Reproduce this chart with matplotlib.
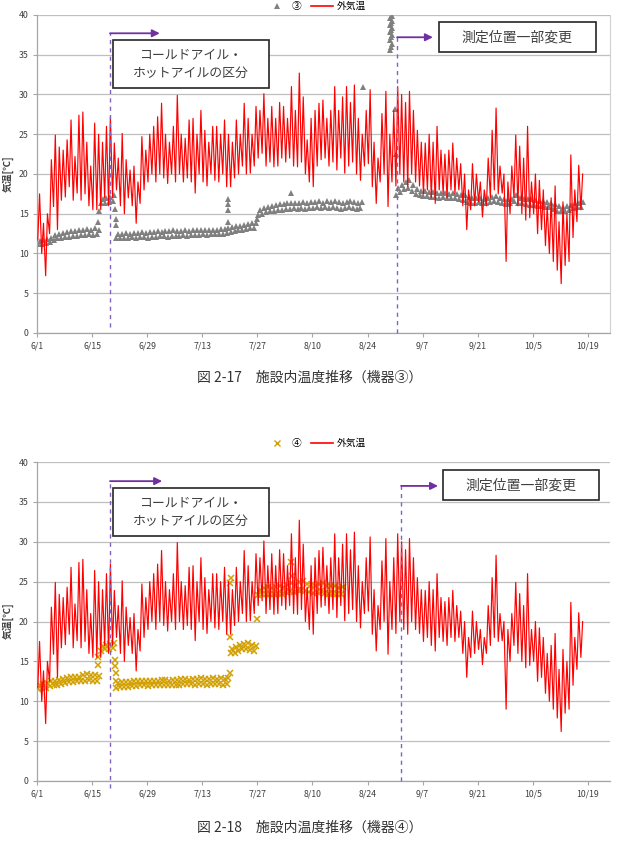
import matplotlib
matplotlib.use("Agg")
import matplotlib.pyplot as plt
from matplotlib.lines import Line2D
from matplotlib.patches import Rectangle
import numpy as np

plt.rcParams['font.family'] = ['Noto Sans CJK JP', 'DejaVu Sans']

nan = np.nan

# x axis: days counted from 6/1
tick_labels = ['6/1', '6/15', '6/29', '7/13', '7/27', '8/10', '8/24', '9/7', '9/21', '10/5', '10/19']
yticks = [0, 5, 10, 15, 20, 25, 30, 35, 40]

# outside air temperature, daily high / low (6/1 .. 10/18)
out_hi = [17.5, 13.8, 15.0, 21.8, 24.9, 23.4, 23.0, 24.3, 26.8, 22.2,
          27.4, 27.8, 24.0, 21.0, 26.4, 25.0, 24.0, 26.0, 27.2, 23.9,
          22.0, 25.1, 21.8, 20.5, 21.0, 19.0, 24.7, 23.0, 25.0, 26.0,
          27.2, 28.9, 25.0, 24.0, 26.0, 29.9, 25.0, 24.5, 26.8, 27.0,
          25.0, 28.0, 25.5, 24.0, 26.0, 26.0, 25.0, 26.8, 25.0, 24.0,
          26.8, 25.0, 28.9, 27.0, 25.0, 28.5, 28.0, 30.1, 27.0, 28.5,
          27.0, 29.0, 28.5, 27.0, 31.0, 28.0, 32.7, 29.7, 24.3, 27.0,
          28.0, 28.9, 29.3, 27.0, 28.0, 31.0, 28.0, 29.7, 31.0, 29.0,
          31.2, 27.0, 25.0, 28.0, 30.6, 24.0, 22.0, 27.6, 30.4, 25.0,
          28.0, 31.0, 30.0, 29.0, 30.4, 28.0, 25.5, 24.0, 23.9, 25.0,
          24.0, 26.0, 23.0, 22.5, 23.0, 23.9, 22.0, 21.3, 20.0, 18.0,
          21.3, 20.0, 19.0, 18.0, 22.0, 25.5, 28.3, 21.0, 20.0, 19.0,
          21.0, 24.9, 23.5, 22.0, 26.0, 19.0, 20.0, 19.2, 18.0, 16.0,
          17.0, 18.5, 14.0, 16.5, 15.0, 22.4, 18.0, 21.1, 20.0]
out_lo = [11.7, 10.0, 7.2, 12.5, 15.9, 13.0, 16.7, 17.1, 18.4, 16.7,
          17.6, 16.7, 17.5, 16.0, 15.5, 15.5, 15.5, 17.0, 16.0, 17.0,
          18.0, 16.0, 15.0, 17.0, 16.0, 13.8, 16.3, 18.0, 19.0, 20.0,
          19.0, 20.0, 19.5, 18.8, 20.0, 19.0, 20.0, 19.0, 19.5, 19.0,
          17.6, 20.0, 19.0, 18.5, 20.0, 19.2, 19.0, 20.0, 18.4, 18.4,
          19.5, 20.0, 21.0, 20.0, 20.1, 21.0, 22.0, 22.6, 21.0, 21.5,
          20.9, 21.0, 22.0, 21.5, 22.0, 21.0, 20.9, 21.5, 20.0, 19.0,
          18.4, 21.0, 21.8, 22.0, 21.0, 21.5, 20.5, 22.0, 20.1, 21.0,
          21.5, 20.0, 19.2, 21.0, 21.3, 18.4, 16.3, 19.0, 20.0, 15.9,
          19.0, 18.5, 20.0, 19.0, 18.4, 20.0, 19.0, 18.5, 17.5, 18.0,
          17.0, 16.3, 18.0, 17.5, 17.0, 18.0, 17.5, 18.0, 16.0, 13.0,
          15.5, 16.0, 16.5, 14.6, 16.0, 17.0, 18.0, 17.5, 17.6, 9.0,
          15.0, 17.0, 16.0, 15.0, 14.2, 14.5, 15.0, 12.5, 13.0, 11.0,
          10.0, 9.0, 7.9, 6.2, 8.5, 9.0, 12.0, 14.0, 15.5]

# device 3, daily low / high readings
dev3_lo = [11.2, 11.2, 11.3, 11.4, 11.7, 11.9, 12.0, 12.1, 12.1, 12.2,
           12.2, 12.3, 12.3, 12.4, 12.3, 12.4, 16.3, 16.4, 16.5, 16.6,
           11.9, 12.0, 12.0, 12.0, 12.1, 12.0, 12.1, 12.1, 12.0, 12.1,
           12.1, 12.2, 12.2, 12.1, 12.2, 12.2, 12.2, 12.3, 12.2, 12.3,
           12.3, 12.3, 12.4, 12.3, 12.4, 12.4, 12.5, 12.5, 12.6, 12.7,
           12.8, 12.9, 13.0, 13.1, 13.2, 13.2, 14.8, 15.0, 15.2, 15.3,
           15.4, 15.5, 15.5, 15.6, 15.6, 15.7, 15.6, 15.7, 15.6, 15.7,
           15.7, 15.8, 15.7, 15.8, 15.7, 15.8, 15.7, 15.6, 15.7, 15.8,
           15.7, 15.6, 15.7, nan, nan, nan, nan, nan, nan, nan,
           nan, 17.3, 17.7, 18.1, 18.3, 17.9, 17.5, 17.3, 17.2, 17.2,
           17.1, 17.1, 17.0, 17.1, 17.0, 17.0, 17.0, 16.9, 16.7, 16.5,
           16.4, 16.4, 16.5, 16.4, 16.4, 16.5, 16.6, 16.5, 16.3, 16.2,
           16.3, 16.6, 16.4, 16.3, 16.2, 16.1, 16.1, 16.0, 16.0, 15.9,
           15.8, 15.6, 15.4, 15.3, 15.4, 15.5, 15.7, 15.8, 15.9]
dev3_hi = [11.6, 11.7, 11.8, 12.0, 12.3, 12.5, 12.6, 12.7, 12.8, 12.8,
           12.9, 13.0, 13.1, 13.0, 13.2, 12.9, 16.9, 17.0, 17.1, 17.3,
           12.4, 12.5, 12.6, 12.5, 12.6, 12.6, 12.7, 12.6, 12.7, 12.7,
           12.8, 12.7, 12.8, 12.8, 12.9, 12.8, 12.8, 12.9, 12.8, 12.9,
           12.9, 12.9, 13.0, 12.9, 13.0, 13.0, 13.1, 13.1, 13.2, 13.3,
           13.4, 13.5, 13.6, 13.7, 13.8, 13.8, 15.5, 15.7, 15.9, 16.0,
           16.1, 16.2, 16.2, 16.3, 16.4, 16.3, 16.4, 16.5, 16.3, 16.5,
           16.5, 16.6, 16.4, 16.6, 16.5, 16.6, 16.5, 16.4, 16.5, 16.6,
           16.5, 16.4, 16.5, nan, nan, nan, nan, nan, nan, nan,
           nan, 18.2, 18.6, 19.0, 19.3, 18.6, 18.1, 17.9, 17.8, 17.7,
           17.7, 17.6, 17.6, 17.6, 17.5, 17.6, 17.5, 17.4, 17.3, 17.1,
           17.0, 17.0, 17.0, 16.9, 17.0, 17.1, 17.2, 17.0, 16.9, 16.8,
           16.9, 17.3, 17.0, 16.9, 16.8, 16.8, 16.7, 16.6, 16.6, 16.5,
           16.4, 16.2, 16.0, 15.9, 16.0, 16.1, 16.3, 16.4, 16.5]
# scattered readings of device 3 (day, value)
dev3_odd_day = [15.6, 15.7, 19.9, 20.0, 20.1, 48.5, 48.5, 48.6, 48.6, 55.9, 64.5, 82.8,
                89.7, 90.0, 90.3, 89.7, 90.0, 90.3, 89.7, 90.0, 90.3, 89.7, 90.0, 90.3,
                89.8, 90.1, 91.0, 91.1]
dev3_odd_val = [14.0, 15.4, 15.6, 14.4, 13.6, 16.8, 16.2, 15.5, 14.0, 14.3, 17.6, 31.0,
                35.6, 36.0, 36.4, 36.8, 37.2, 37.5, 37.8, 38.1, 38.4, 38.7, 39.0, 39.3,
                39.6, 39.9, 28.2, 22.5]

# device 4, daily low / high readings (logged until 8/18)
dev4_lo = [11.5, 11.6, 11.7, 11.9, 12.0, 12.1, 12.2, 12.3, 12.4, 12.4,
           12.5, 12.6, 12.6, 12.7, 12.6, 12.6, 16.3, 16.5, 16.6, 16.7,
           11.7, 11.8, 11.8, 11.8, 11.9, 11.9, 12.0, 12.0, 11.9, 12.0,
           12.0, 12.1, 12.1, 12.0, 12.1, 12.1, 12.1, 12.2, 12.2, 12.2,
           12.1, 12.2, 12.2, 12.1, 12.2, 12.2, 12.2, 12.1, 12.2, 16.0,
           16.1, 16.3, 16.5, 16.6, 16.4, 16.3, 23.3, 23.4, 23.5, 23.4,
           23.5, 23.6, 23.5, 23.7, 23.8, 23.7, 23.9, 24.0, 23.8, 23.7,
           23.6, 23.7, 23.8, 23.6, 23.5, 23.6, 23.4, 23.5]
dev4_hi = [12.1, 12.2, 12.3, 12.5, 12.6, 12.7, 12.8, 12.9, 13.0, 13.0,
           13.1, 13.3, 13.4, 13.3, 13.3, 13.2, 16.9, 17.1, 17.2, 17.3,
           12.3, 12.4, 12.4, 12.4, 12.5, 12.5, 12.6, 12.6, 12.5, 12.6,
           12.6, 12.7, 12.7, 12.6, 12.7, 12.7, 12.8, 12.8, 12.7, 12.8,
           12.8, 12.9, 12.8, 12.8, 12.9, 12.8, 12.9, 12.8, 12.9, 16.6,
           16.8, 17.0, 17.2, 17.3, 17.0, 16.9, 24.0, 24.2, 24.3, 24.2,
           24.3, 24.4, 24.3, 24.6, 24.8, 24.6, 25.0, 25.1, 24.7, 24.6,
           24.5, 24.7, 24.8, 24.5, 24.4, 24.5, 24.2, 24.3]
dev4_odd_day = [15.4, 15.5, 19.8, 19.9, 20.0, 20.1, 49.0, 49.0, 49.1, 49.2, 56.0, 64.5, 64.8]
dev4_odd_val = [14.6, 15.5, 15.2, 14.4, 13.5, 12.6, 13.5, 18.1, 24.8, 25.5, 20.3, 27.5, 25.7]

RED = '#FF0000'
GRAY = '#808080'
GOLD = '#D2A000'
PURPLE = '#7030A0'
DASH = '#8064C0'
TXT = '#404040'

W, H = 618, 861


def px_axes(left, top, right, bottom):
    return [left / W, 1 - bottom / H, (right - left) / W, (bottom - top) / H]


def day_pairs(lo, hi):
    d = np.arange(len(lo))
    x = np.column_stack([d + 0.2, d + 0.65]).ravel()
    y = np.column_stack([lo, hi]).ravel()
    return x, y


def draw_panel(ax, s_lo, s_hi, odd_d, odd_v, marker, mcolor, msize, mew):
    ax.set_xlim(0, 145.6)
    ax.set_ylim(0, 40)
    ax.set_yticks(yticks)
    ax.set_xticks(np.arange(0, 141, 14))
    ax.set_xticklabels(tick_labels)
    ax.yaxis.grid(True, color='#BFBFBF', lw=0.9)
    ax.set_axisbelow(True)
    for s in ['top', 'right']:
        ax.spines[s].set_visible(False)
    for s in ['left', 'bottom']:
        ax.spines[s].set_color('#A6A6A6')
        ax.spines[s].set_linewidth(0.9)
    ax.tick_params(axis='both', direction='out', length=3, width=0.8, color='#A6A6A6',
                   labelsize=6.3, labelcolor=TXT, pad=3)

    # sensor readings (two per day) plus scattered outliers
    sx, sy = day_pairs(s_lo, s_hi)
    ax.plot(sx, sy, ls='none', marker=marker, color=mcolor, ms=msize, mew=mew, zorder=2)
    ax.plot(odd_d, odd_v, ls='none', marker=marker, color=mcolor, ms=msize, mew=mew,
            zorder=2)

    ox, oy = day_pairs(out_lo, out_hi)
    ax.plot(ox, oy, color=RED, lw=0.85, zorder=3)


def draw_note(ax, x0, x1, y0, y1, text, size):
    ax.add_patch(Rectangle((x0, y0), x1 - x0, y1 - y0, facecolor='white',
                           edgecolor='#262626', lw=1.2, zorder=5))
    ax.text((x0 + x1) / 2, (y0 + y1) / 2, text, ha='center', va='center',
            fontsize=size, color=TXT, zorder=6, linespacing=1.5)


def draw_marker_line(ax, x, y_top, y_bot, x_arrow):
    ax.plot([x, x], [y_bot, y_top], ls=(0, (3, 3)), color=DASH, lw=1.0, zorder=4, clip_on=False)
    ax.annotate('', xy=(x_arrow, y_top), xytext=(x, y_top),
                arrowprops=dict(arrowstyle='-|>', color=PURPLE, lw=1.3,
                                mutation_scale=11, shrinkA=0, shrinkB=0),
                zorder=6, annotation_clip=False)


fig = plt.figure(figsize=(W / 100, H / 100), dpi=100)

# ---- chart 1: device 3 ----
ax1 = fig.add_axes(px_axes(37, 15, 610, 333))
draw_panel(ax1, dev3_lo, dev3_hi, dev3_odd_day, dev3_odd_val, '^', GRAY, 4.8, 0)
ax1.spines['right'].set_visible(True)
ax1.spines['right'].set_color('#D0D0D0')
draw_marker_line(ax1, 18.55, 37.7, 0.8, 31.2)
draw_marker_line(ax1, 91.5, 37.2, 0.0, 100.6)
draw_note(ax1, 19.3, 58.9, 30.8, 36.9, 'コールドアイル・\nホットアイルの区分', 9.3)
draw_note(ax1, 102.1, 142.0, 35.3, 39.1, '測定位置一部変更', 10)

h1 = [Line2D([], [], ls='none', marker='^', color=GRAY, ms=4, mew=0),
      Line2D([], [], color=RED, lw=1.2)]
fig.legend(h1, ['③', '外気温'], loc='center', bbox_to_anchor=(316 / W, 1 - 6 / H),
           ncol=2, frameon=False, fontsize=7, handlelength=2.2, columnspacing=1.0,
           handletextpad=0.4, borderpad=0.1)

fig.text(8 / W, 1 - 174 / H, '気温[℃]', rotation=90, ha='center', va='center',
         fontsize=7, fontweight='bold', color=TXT)
fig.text(310 / W, 1 - 378 / H, '図 2-17　施設内温度推移（機器③）', ha='center', va='center',
         fontsize=10, color='#333333')

# ---- chart 2: device 4 ----
ax2 = fig.add_axes(px_axes(37, 462, 610, 781))
draw_panel(ax2, dev4_lo, dev4_hi, dev4_odd_day, dev4_odd_val, 'x', GOLD, 3.8, 1.1)
draw_marker_line(ax2, 18.55, 37.6, -0.9, 31.8)
draw_marker_line(ax2, 92.5, 37.0, 0.0, 101.9)
draw_note(ax2, 19.3, 58.9, 30.7, 36.7, 'コールドアイル・\nホットアイルの区分', 9.3)
draw_note(ax2, 103.1, 142.8, 35.2, 39.0, '測定位置一部変更', 10)

h2 = [Line2D([], [], ls='none', marker='x', color=GOLD, ms=4, mew=1),
      Line2D([], [], color=RED, lw=1.2)]
fig.legend(h2, ['④', '外気温'], loc='center', bbox_to_anchor=(316 / W, 1 - 443 / H),
           ncol=2, frameon=False, fontsize=7, handlelength=2.2, columnspacing=1.0,
           handletextpad=0.4)

fig.text(8 / W, 1 - 621 / H, '気温[℃]', rotation=90, ha='center', va='center',
         fontsize=7, fontweight='bold', color=TXT)
fig.text(310 / W, 1 - 828 / H, '図 2-18　施設内温度推移（機器④）', ha='center', va='center',
         fontsize=10, color='#333333')

fig.savefig('out.png', dpi=100)
